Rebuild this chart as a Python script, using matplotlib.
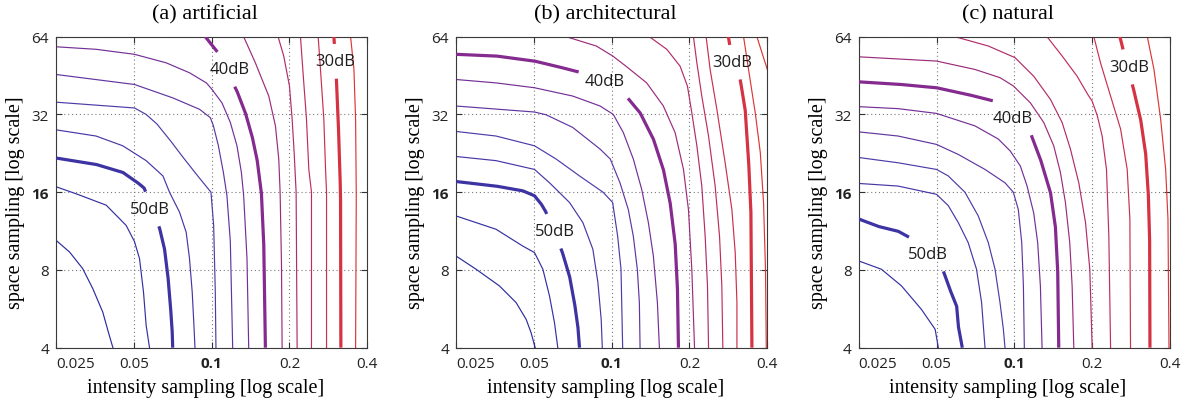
import numpy as np
import matplotlib
matplotlib.use('Agg')
import matplotlib.pyplot as plt
from matplotlib.colors import LinearSegmentedColormap
from matplotlib.ticker import NullLocator

### Data: PSNR contour lines, (intensity sampling, space sampling) points

titles = ['(a) artificial', '(b) architectural', '(c) natural']
x_ticks = [0.025, 0.05, 0.1, 0.2, 0.4]
x_tick_labels = ['0.025', '0.05', '0.1', '0.2', '0.4']
y_ticks = [4, 8, 16, 32, 64]
y_tick_labels = ['4', '8', '16', '32', '64']

# (a) artificial
art54 = [(0.025, 10.42), (0.0282, 9.39), (0.0317, 8.10), (0.0347, 6.77), (0.0379, 5.50), (0.0402, 4.46), (0.0415, 4.0)]
art52 = [(0.025, 16.8), (0.0303, 15.7), (0.0391, 14.25), (0.0467, 11.9), (0.0503, 10.3), (0.0526, 8.85), (0.0545, 6.57), (0.0558, 4.88), (0.0575, 4.0)]
art50 = [(0.025, 21.7), (0.0357, 20.5), (0.0453, 19.1), (0.0518, 17.4), (0.0548, 16.6), (0.0587, 14.0), (0.0629, 11.6), (0.0657, 9.67), (0.0677, 7.62), (0.0691, 6.01), (0.0703, 4.74), (0.0707, 4.0)]
art48 = [(0.025, 27.9), (0.0357, 26.4), (0.0453, 24.2), (0.0558, 21.2), (0.0648, 18.5), (0.0687, 16.0), (0.0751, 13.4), (0.0797, 11.2), (0.0821, 8.85), (0.0841, 6.57), (0.0854, 4.88), (0.0862, 4.0)]
art46 = [(0.025, 35.7), (0.0503, 33.9), (0.0558, 32.0), (0.0614, 29.4), (0.0691, 25.4), (0.0779, 21.7), (0.0891, 18.3), (0.0994, 16.0), (0.1018, 11.9), (0.1033, 6.57), (0.1039, 4.0)]
art44 = [(0.025, 45.7), (0.0503, 41.8), (0.0707, 37.1), (0.0898, 33.5), (0.0988, 31.1), (0.1015, 29.0), (0.1061, 24.3), (0.1110, 19.1), (0.1146, 15.5), (0.1181, 10.3), (0.1206, 4.0)]
art42 = [(0.025, 58.5), (0.0357, 57.2), (0.0503, 54.7), (0.0667, 50.7), (0.0821, 46.4), (0.0954, 42.4), (0.1003, 40.0), (0.1096, 35.5), (0.1181, 29.8), (0.1253, 24.2), (0.1303, 19.1), (0.1330, 15.5), (0.1370, 8.85), (0.1391, 4.0)]
art40 = [(0.0945, 64.0), (0.1052, 55.9), (0.1143, 47.2), (0.1253, 39.4), (0.1350, 32.5), (0.1433, 26.4), (0.1498, 21.5), (0.1557, 16.0), (0.1590, 10.3), (0.1614, 4.0)]
art38 = [(0.1330, 64.0), (0.1476, 50.7), (0.1663, 37.7), (0.1765, 28.9), (0.1818, 21.5), (0.1840, 16.0), (0.1863, 8.31), (0.1873, 4.0)]
art36 = [(0.1807, 64.0), (0.1900, 53.9), (0.2000, 41.2), (0.2048, 30.7), (0.2085, 22.8), (0.2122, 16.0), (0.2141, 4.0)]
art34 = [(0.2206, 64.0), (0.2252, 47.8), (0.2327, 30.7), (0.2376, 19.6), (0.2433, 16.0), (0.2433, 4.0)]
art32 = [(0.2582, 64.0), (0.2636, 47.8), (0.2716, 30.7), (0.2758, 19.6), (0.2782, 16.0), (0.2782, 4.0)]
art30 = [(0.2970, 64.0), (0.3016, 51.5), (0.3086, 30.7), (0.3133, 19.6), (0.3152, 15.5), (0.3161, 4.0)]
art28 = [(0.3447, 64.0), (0.3551, 47.8), (0.3604, 30.7), (0.3626, 15.5), (0.3604, 4.0)]
art_labels = [(50, 0.0578, 13.8), (40, 0.1178, 47.9), (30, 0.3016, 51.5)]

# (b) architectural
arc54 = [(0.025, 9.06), (0.0299, 8.05), (0.0368, 6.94), (0.0427, 5.98), (0.0467, 5.15), (0.0488, 4.57), (0.0506, 4.0)]
arc52 = [(0.025, 12.95), (0.0357, 11.5), (0.0453, 9.90), (0.0503, 9.34), (0.0542, 8.05), (0.0575, 6.34), (0.0601, 5.00), (0.0619, 4.0)]
arc50 = [(0.025, 17.6), (0.0357, 16.9), (0.0453, 16.2), (0.0503, 15.5), (0.0534, 14.4), (0.0555, 13.5), (0.0598, 11.3), (0.0644, 9.39), (0.0687, 7.58), (0.0718, 5.98), (0.0740, 4.85), (0.0751, 4.0)]
arc48 = [(0.025, 22.0), (0.0357, 21.2), (0.0503, 19.6), (0.0575, 17.4), (0.0687, 14.6), (0.0774, 12.2), (0.0846, 9.62), (0.0885, 7.14), (0.0911, 5.15), (0.0920, 4.0)]
arc46 = [(0.025, 27.5), (0.0357, 26.4), (0.0503, 24.2), (0.0610, 21.5), (0.0751, 18.5), (0.0926, 16.0), (0.1009, 14.6), (0.1055, 10.8), (0.1087, 8.05), (0.1103, 4.0)]
arc44 = [(0.025, 34.5), (0.0503, 32.7), (0.0558, 31.9), (0.0707, 28.5), (0.0902, 23.5), (0.0988, 21.5), (0.1077, 17.4), (0.1160, 13.7), (0.1213, 10.8), (0.1257, 8.05), (0.1280, 5.98), (0.1288, 4.0)]
arc42 = [(0.025, 43.7), (0.0357, 42.4), (0.0503, 40.6), (0.0707, 37.7), (0.0902, 34.5), (0.1015, 32.0), (0.1110, 27.2), (0.1213, 21.5), (0.1307, 16.4), (0.1387, 12.2), (0.1450, 9.06), (0.1503, 5.98), (0.1530, 4.0)]
arc40 = [(0.025, 54.7), (0.0357, 53.9), (0.0503, 51.5), (0.0610, 49.2), (0.0786, 46.1), (0.0931, 42.6), (0.1110, 38.8), (0.1288, 32.5), (0.1450, 25.7), (0.1585, 19.6), (0.1683, 14.6), (0.1760, 10.2), (0.1796, 6.94), (0.1813, 4.0)]
arc38 = [(0.0667, 64.0), (0.0872, 58.9), (0.1009, 53.9), (0.1136, 49.2), (0.1366, 42.4), (0.1585, 34.5), (0.1760, 27.2), (0.1896, 19.6), (0.1982, 13.7), (0.2042, 8.05), (0.2092, 4.0)]
arc36 = [(0.1399, 64.0), (0.1634, 57.2), (0.1840, 49.2), (0.1964, 41.2), (0.2042, 32.5), (0.2136, 24.2), (0.2232, 16.9), (0.2300, 10.8), (0.2348, 6.94), (0.2370, 4.0)]
arc34 = [(0.2072, 64.0), (0.2136, 50.7), (0.2232, 37.7), (0.2370, 26.4), (0.2514, 16.9), (0.2614, 10.8), (0.2668, 6.94), (0.2692, 4.0)]
arc32 = [(0.2320, 64.0), (0.2404, 47.8), (0.2552, 33.5), (0.2748, 20.8), (0.2918, 13.7), (0.3006, 9.34), (0.3052, 5.98), (0.3052, 4.0)]
arc30 = [(0.2828, 64.0), (0.2874, 58.0), (0.3006, 51.2), (0.3142, 43.7), (0.3284, 33.5), (0.3384, 21.5), (0.3456, 13.7), (0.3488, 4.0)]
arc28 = [(0.3238, 64.0), (0.3384, 47.8), (0.3592, 32.5), (0.3758, 22.8), (0.3868, 14.6), (0.3936, 8.05), (0.3964, 4.0)]
arc26 = [(0.3646, 64.0), (0.3814, 55.5), (0.4, 47.8)]
arc_labels = [(50, 0.0601, 11.3), (40, 0.0939, 43.1), (30, 0.2934, 51.0)]

# (c) natural
nat52 = [(0.025, 8.67), (0.0306, 8.05), (0.0366, 6.94), (0.0437, 5.63), (0.0494, 4.71), (0.0508, 4.0)]
nat50 = [(0.025, 12.6), (0.0297, 11.8), (0.0355, 11.3), (0.0406, 10.5), (0.0464, 9.09), (0.0531, 7.93), (0.0563, 6.73), (0.0598, 5.80), (0.0607, 4.85), (0.0629, 4.0)]
nat48 = [(0.025, 17.3), (0.0355, 16.9), (0.05, 15.7), (0.0555, 14.2), (0.0607, 12.2), (0.0663, 10.2), (0.0714, 8.05), (0.0747, 5.98), (0.0770, 4.0)]
nat46 = [(0.025, 21.8), (0.0355, 20.8), (0.05, 19.6), (0.0555, 18.5), (0.0644, 16.0), (0.0725, 12.95), (0.0793, 10.2), (0.0842, 8.05), (0.0880, 5.98), (0.0907, 4.71), (0.0920, 4.0)]
nat44 = [(0.025, 27.4), (0.0355, 26.4), (0.05, 24.5), (0.0607, 22.4), (0.0770, 19.6), (0.0920, 17.4), (0.0991, 16.0), (0.1036, 13.7), (0.1068, 10.2), (0.1084, 6.94), (0.1093, 4.0)]
nat42 = [(0.025, 34.3), (0.0355, 33.7), (0.05, 32.3), (0.0704, 28.9), (0.0867, 25.7), (0.0964, 23.1), (0.1055, 20.2), (0.1120, 16.9), (0.1188, 13.3), (0.1231, 10.2), (0.1261, 6.94), (0.1280, 4.0)]
nat40 = [(0.025, 42.8), (0.0355, 41.9), (0.05, 40.6), (0.0663, 38.2), (0.0867, 35.7), (0.1, 31.2), (0.1153, 27.2), (0.1261, 21.5), (0.1379, 16.0), (0.1441, 11.8), (0.1471, 8.05), (0.1485, 4.0)]
nat38 = [(0.025, 53.5), (0.05, 51.5), (0.0704, 47.8), (0.0881, 44.4), (0.0993, 41.2), (0.1153, 35.5), (0.1299, 29.8), (0.1420, 24.2), (0.1507, 19.1), (0.1576, 14.6), (0.1638, 10.2), (0.1673, 6.94), (0.1698, 4.0)]
nat36 = [(0.0589, 64.0), (0.0793, 58.9), (0.1006, 53.1), (0.1188, 45.0), (0.1379, 36.6), (0.1530, 29.8), (0.1648, 23.5), (0.1775, 17.4), (0.1885, 12.2), (0.1958, 8.05), (0.2, 4.0)]
nat34 = [(0.1338, 64.0), (0.1530, 53.9), (0.1749, 45.0), (0.1924, 38.2), (0.2, 36.0), (0.2092, 31.7), (0.2186, 26.4), (0.2272, 19.6), (0.2320, 10.8), (0.2356, 4.0)]
nat32 = [(0.2030, 64.0), (0.2154, 50.7), (0.2356, 37.7), (0.2576, 28.1), (0.2732, 19.6), (0.2798, 12.6), (0.2814, 4.0)]
nat30 = [(0.2560, 64.0), (0.2614, 58.9), (0.2740, 48.5), (0.2882, 40.6), (0.3078, 30.7), (0.3218, 22.8), (0.3296, 16.0), (0.3336, 10.8), (0.3346, 4.0)]
nat28 = [(0.3268, 64.0), (0.3468, 47.8), (0.3680, 30.7), (0.3848, 19.6), (0.3928, 12.6), (0.3964, 4.0)]
nat_labels = [(50, 0.0464, 9.2), (40, 0.0982, 31.0), (30, 0.2774, 48.9)]

panels = [
    ({54: art54, 52: art52, 50: art50, 48: art48, 46: art46, 44: art44, 42: art42,
      40: art40, 38: art38, 36: art36, 34: art34, 32: art32, 30: art30, 28: art28}, art_labels),
    ({54: arc54, 52: arc52, 50: arc50, 48: arc48, 46: arc46, 44: arc44, 42: arc42,
      40: arc40, 38: arc38, 36: arc36, 34: arc34, 32: arc32, 30: arc30, 28: arc28, 26: arc26}, arc_labels),
    ({52: nat52, 50: nat50, 48: nat48, 46: nat46, 44: nat44, 42: nat42,
      40: nat40, 38: nat38, 36: nat36, 34: nat34, 32: nat32, 30: nat30, 28: nat28}, nat_labels),
]

### Style

cmap = LinearSegmentedColormap.from_list(
    'psnr', [(0.0, '#2b2d9f'), (0.31, '#4f3aa8'), (0.54, '#862a8f'),
             (0.72, '#b82c62'), (1.0, '#e03535')])
sans = ['Open Sans', 'DejaVu Sans']
serif = ['Liberation Serif', 'DejaVu Serif']

fig = plt.figure(figsize=(11.92, 4.02), dpi=100)
W, H = 1192.0, 402.0
lefts = [56, 456, 858.7]


def draw_contour(ax, pts, level, labels):
    x, y = np.array(pts).T
    lx, ly = np.log2(x), np.log2(y)
    color = cmap((54 - level) / 26.0)
    lab = [l for l in labels if l[0] == level]
    if lab:
        # cut a gap around the inline label (work in octaves, both axes equal)
        seg = np.hypot(np.diff(lx), np.diff(ly))
        s = np.concatenate([[0], np.cumsum(seg)])
        t = np.linspace(0, s[-1], 600)
        lx, ly = np.interp(t, s, lx), np.interp(t, s, ly)
        _, cx, cy = lab[0]
        inside = (np.abs(lx - np.log2(cx)) < 0.33) & (np.abs(ly - np.log2(cy)) < 0.22)
        lx[inside] = np.nan
        ax.plot(2 ** lx, 2 ** ly, color=color, lw=2.3, solid_capstyle='butt', zorder=3)
        ax.text(cx, cy, '%ddB' % level, ha='center', va='center', fontsize=12,
                family=sans, color='#1e1e1e', zorder=4)
    else:
        ax.plot(2 ** lx, 2 ** ly, color=color, lw=0.85, zorder=2)


for i, (lines, labels) in enumerate(panels):
    ax = fig.add_axes([lefts[i] / W, 53.3 / H, 311.3 / W, 311.0 / H])
    for level, pts in lines.items():
        draw_contour(ax, pts, level, labels)

    ax.set_xscale('log')
    ax.set_yscale('log')
    ax.set_xlim(0.025, 0.4)
    ax.set_ylim(4, 64)

    ax.set_xticks(x_ticks)
    ax.set_xticklabels(x_tick_labels)
    ax.set_yticks(y_ticks)
    ax.set_yticklabels(y_tick_labels)
    ax.xaxis.set_minor_locator(NullLocator())
    ax.yaxis.set_minor_locator(NullLocator())
    for lbl in ax.get_xticklabels() + ax.get_yticklabels():
        lbl.set_family(sans)
        lbl.set_fontsize(11)
        lbl.set_color('#222222')
        if lbl.get_text() in ('0.1', '16'):
            lbl.set_fontweight('bold')
    ax.get_xticklabels()[0].set_horizontalalignment('left')

    ax.tick_params(direction='in', length=4, width=0.8, top=True, right=True, color='#333333')
    ax.tick_params(axis='x', pad=6)
    ax.tick_params(axis='y', pad=5)
    ax.grid(True, which='major', linestyle=(0, (1, 2.5)), color='#7a7a7a', lw=0.8)
    for sp in ax.spines.values():
        sp.set_color('#3a3a3a')
        sp.set_linewidth(0.8)

    ax.set_title(titles[i], family=serif, fontsize=16, x=0.48, pad=13)
    ax.set_xlabel('intensity sampling [log scale]', family=serif, fontsize=14.5)
    ax.xaxis.set_label_coords(0.48, -0.098)
    ax.set_ylabel('space sampling [log scale]', family=serif, fontsize=14.5)
    ax.yaxis.set_label_coords(-0.10, 0.47)

fig.savefig('out.png', dpi=100)
plt.close(fig)
